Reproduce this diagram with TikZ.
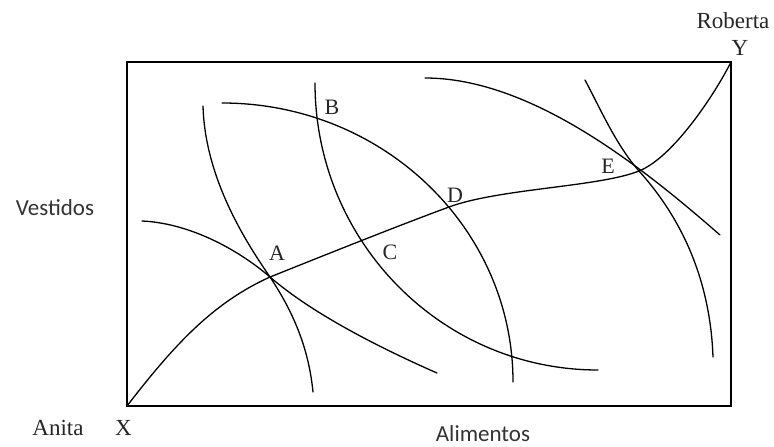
\documentclass[tikz,border=0pt]{standalone}
\usepackage{fontspec}
\setmainfont{Liberation Serif}
\newfontfamily\axisfont{Carlito}
\begin{document}
\begin{tikzpicture}[x=1pt,y=-1pt,
  curve/.style={line width=1.3pt, line cap=round},
  lbl/.style={font=\fontsize{22}{24}\selectfont, inner sep=0pt, text=black!85},
  cornerlbl/.style={font=\fontsize{23}{25}\selectfont, inner sep=0pt, text=black!85},
  axlbl/.style={font=\axisfont\fontsize{23}{25}\selectfont, inner sep=0pt, text=black!80}]
\useasboundingbox (0,0) rectangle (774,447);
% box
\draw[line width=1.5pt] (127,62) rectangle (731,406);
% key points
\coordinate (X) at (127,406);
\coordinate (Y) at (731,62);
\coordinate (A) at (270,277);
\coordinate (B) at (317,118);
\coordinate (C) at (360,240);
\coordinate (D) at (449,207);
\coordinate (E) at (639,171);
% contract curve
\draw[curve] (X) .. controls (177,341) and (215,302) .. (A)
  .. controls (330,253) and (400,225) .. (D)
  .. controls (499,188.5) and (599,187) .. (E)
  .. controls (674,157) and (716,92) .. (Y);
% Anita's indifference curves
\draw[curve] (142,221) .. controls (187,223) and (235,247) .. (A)
  .. controls (315,316) and (387,351) .. (437,373);
\draw[curve] (222,103) .. controls (382.7,103) and (513,227.9) .. (513,382);
\draw[curve] (425,78) .. controls (530,78) and (640,165) .. (720,235);
% Roberta's indifference curves
\draw[curve] (203,106) .. controls (205,180) and (248,245) .. (A)
  .. controls (296,316) and (309,352) .. (313,392);
\draw[curve] (315,83) .. controls (315,241.5) and (441.7,370) .. (598,370);
\draw[curve] (585,80) .. controls (600,108) and (616,145) .. (E)
  .. controls (694,232) and (711,300) .. (713,357);
% point labels
\node[lbl] (lA) at (277,253) {A};
\node[lbl] (lB) at (332,107) {B};
\node[lbl] (lC) at (390,252) {C};
\node[lbl] (lD) at (455,195) {D};
\node[lbl] (lE) at (608,166) {E};
% corner labels
\node[cornerlbl] (rob) at (733,21) {Roberta};
\node[cornerlbl] (ly) at (740,48) {Y};
\node[cornerlbl] (ani) at (58,428) {Anita};
\node[cornerlbl] (lx) at (123.5,428) {X};
% axis labels
\node[axlbl] (ves) at (55,208) {Vestidos};
\node[axlbl] (ali) at (483,434) {Alimentos};
\end{tikzpicture}
\end{document}
